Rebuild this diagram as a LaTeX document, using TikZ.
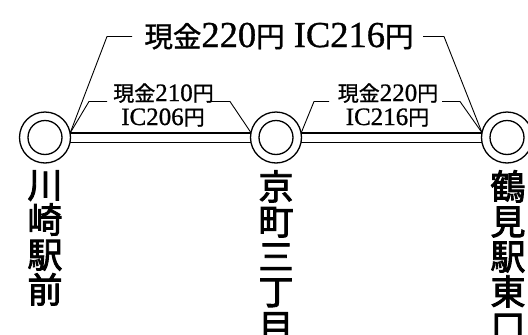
\documentclass[tikz,border=0pt]{standalone}
\usepackage{fontspec}
\setmainfont{Liberation Serif}[FakeBold=0.9]
\newfontfamily\cjk{Noto Sans CJK JP}[FakeBold=1.2]
\newfontfamily\cjkst{Noto Sans CJK JP}[FakeBold=2.5]
\usetikzlibrary{backgrounds}
\newcommand\bk[1]{{\fontsize{28.5}{30}\selectfont\cjk #1}}
\newcommand\sk[1]{{\fontsize{21}{25}\selectfont\cjk #1}}
\newcommand\stfont{\cjkst\fontsize{35}{35}\selectfont\lineskiplimit=-20pt\relax}
\tikzset{
  outerc/.style={circle,draw,line width=1.3pt,fill=white,minimum size=51pt,inner sep=0pt,outer sep=0pt},
  innerc/.style={circle,draw,line width=1.3pt,minimum size=34pt,inner sep=0pt,outer sep=0pt},
  rail/.style={line width=1.5pt,double=white,double distance=8pt},
  leader/.style={line width=0.9pt},
  bigfare/.style={font=\fontsize{36.5}{40}\selectfont,inner sep=0pt,anchor=base},
  smallfare/.style={font=\fontsize{25}{25}\selectfont,inner sep=0pt,anchor=base},
  stname/.style={font=\stfont,align=center,inner sep=0pt,anchor=north},
}
\begin{document}
\begin{tikzpicture}[x=1pt,y=-1pt]
\useasboundingbox (0,0) rectangle (528,335);
\clip (0,0) rectangle (528,335);
% stations
\node[outerc] (s1) at (45,137.5) {};
\node[innerc] (i1) at (s1) {};
\node[outerc] (s2) at (276,137.5) {};
\node[innerc] (i2) at (s2) {};
\node[outerc] (s3) at (507,137.5) {};
\node[innerc] (i3) at (s3) {};
% rails
\begin{scope}[on background layer]
\draw[rail] (s1.center) -- (s2.center);
\draw[rail] (s2.center) -- (s3.center);
\end{scope}
% station names
\node[stname] (n1) at (45,170) {川\\崎\\駅\\前};
\node[stname] (n2) at (276,170) {京\\町\\三\\丁\\目};
\node[stname] (n3) at (508,170) {鶴\\見\\駅\\東\\口};
% fares
\node[bigfare] (big) at (279,47) {\bk{現金}220\bk{円} IC216\bk{円}};
\node[smallfare] (fa1) at (163.5,101) {\sk{現金}210\sk{円}};
\node[smallfare] (fa2) at (163,125) {IC206\sk{円}};
\node[smallfare] (fb1) at (388,101) {\sk{現金}220\sk{円}};
\node[smallfare] (fb2) at (387.5,125) {IC216\sk{円}};
% leader coordinates
\coordinate (tl1) at (132,36.5);
\coordinate (tl2) at (107,36.5);
\coordinate (tr1) at (423,36.5);
\coordinate (tr2) at (444,36.5);
\coordinate (al1) at (107,101.5);
\coordinate (al2) at (89,101.5);
\coordinate (ar1) at (211,101.5);
\coordinate (ar2) at (230,101.5);
\coordinate (bl1) at (329,101.5);
\coordinate (bl2) at (314,101.5);
\coordinate (br1) at (442,101.5);
\coordinate (br2) at (460,101.5);
% leaders
\draw[leader] (tl1) -- (tl2) -- (s1.10.7);
\draw[leader] (tr1) -- (tr2) -- (s3.169.3);
\draw[leader] (al1) -- (al2) -- (s1.10.7);
\draw[leader] (ar1) -- (ar2) -- (s2.169.3);
\draw[leader] (bl1) -- (bl2) -- (s2.10.7);
\draw[leader] (br1) -- (br2) -- (s3.169.3);
\end{tikzpicture}
\end{document}
